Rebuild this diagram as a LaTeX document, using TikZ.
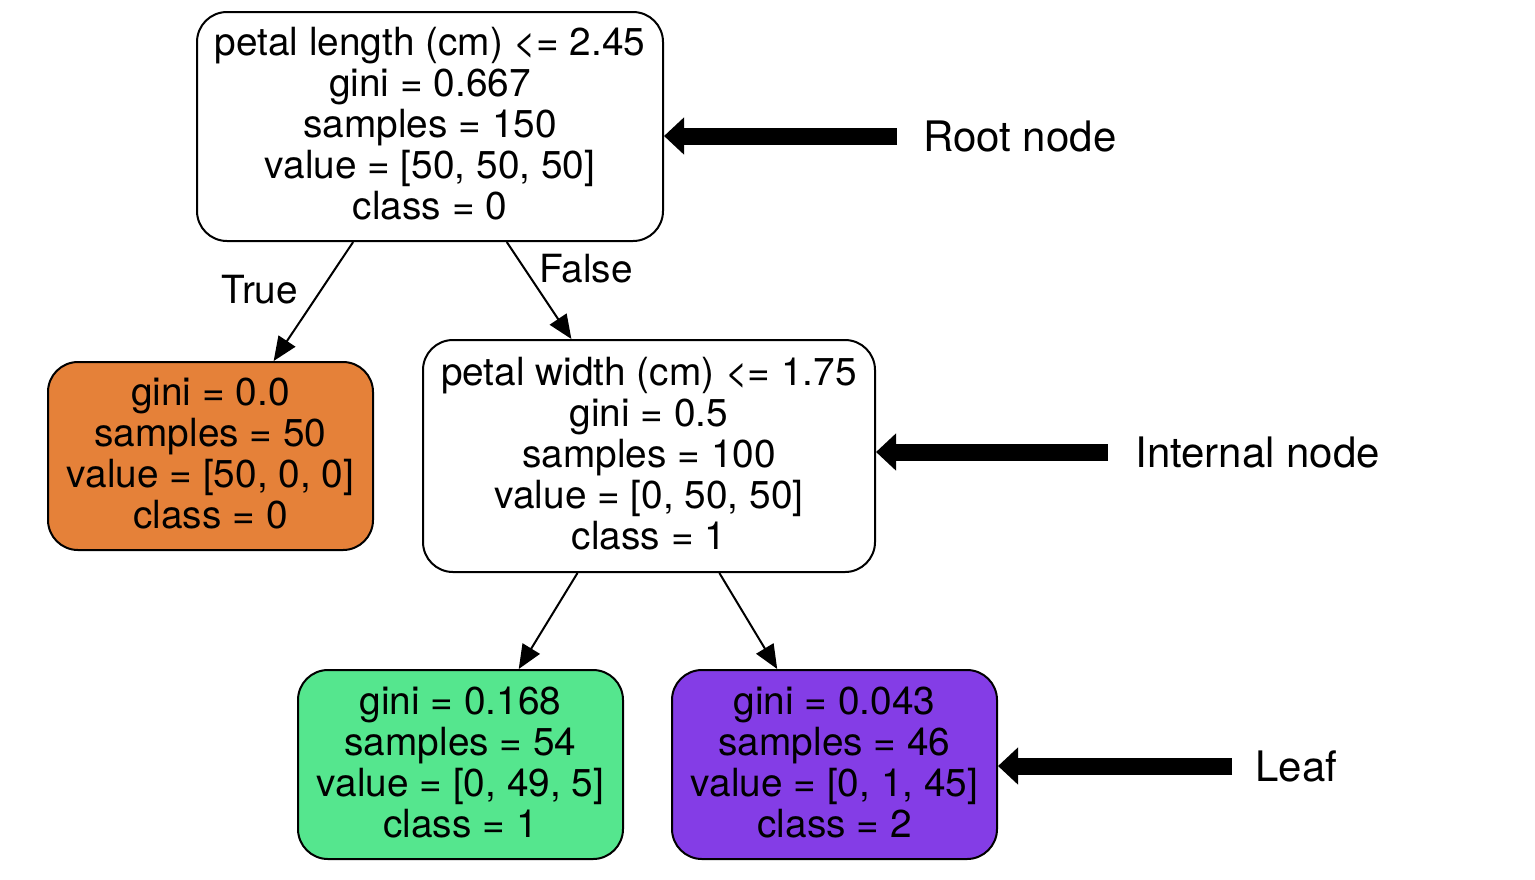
\documentclass[tikz,border=0pt]{standalone}
\usepackage{fontspec}
\setmainfont{TeX Gyre Heros}
\usetikzlibrary{arrows.meta}
\definecolor{leaforange}{HTML}{E58139}
\definecolor{leafgreen}{HTML}{55E68E}
\definecolor{leafpurple}{HTML}{843DE6}
\newcommand{\nodelines}[1]{\raisebox{-1.5pt}[\height][\depth]{\renewcommand{\arraystretch}{1}\begin{tabular}{@{}c@{}}#1\end{tabular}}}
\tikzset{
  treenode/.style={draw=black, line width=1pt, rounded corners=15pt, align=center,
    inner sep=0pt, font=\fontsize{19.4}{20.5}\selectfont},
  edgelab/.style={inner sep=0pt, font=\fontsize{19.4}{20.5}\selectfont},
  treeedge/.style={draw=black, line width=1pt, -{Triangle[length=12pt,width=10pt]}},
  bigarrow/.style={draw=black, line width=8.5pt, -{Triangle[length=10pt,width=18pt]}},
  sidelab/.style={inner sep=0pt, anchor=west, font=\fontsize{21}{23}\selectfont}
}
\begin{document}
\begin{tikzpicture}[x=0.5pt,y=-0.5pt]
\useasboundingbox (0,0) rectangle (1535,879);
\node[treenode, minimum width=233pt, minimum height=114.5pt] (root) at (430,126.5)
  {\nodelines{petal length (cm) <= 2.45\\gini = 0.667\\samples = 150\\value = [50, 50, 50]\\class = 0}};
\node[treenode, fill=leaforange, minimum width=162.5pt, minimum height=94pt] (left) at (210.5,456)
  {\nodelines{gini = 0.0\\samples = 50\\value = [50, 0, 0]\\class = 0}};
\node[treenode, minimum width=226pt, minimum height=116pt] (inner) at (649,456)
  {\nodelines{petal width (cm) <= 1.75\\gini = 0.5\\samples = 100\\value = [0, 50, 50]\\class = 1}};
\node[treenode, fill=leafgreen, minimum width=162.5pt, minimum height=94.5pt] (green) at (460.5,764.5)
  {\nodelines{gini = 0.168\\samples = 54\\value = [0, 49, 5]\\class = 1}};
\node[treenode, fill=leafpurple, minimum width=162.5pt, minimum height=94.5pt] (purple) at (834.5,764.5)
  {\nodelines{gini = 0.043\\samples = 46\\value = [0, 1, 45]\\class = 2}};
\draw[treeedge] (root) -- (left);
\draw[treeedge] (root) -- (inner);
\draw[treeedge] (inner) -- (green);
\draw[treeedge] (inner) -- (purple);
\node[edgelab] (truelab) at (260,290) {True};
\node[edgelab] (falselab) at (586,269) {False};
\node[sidelab] (rootlab) at (923,136) {Root node};
\node[sidelab] (innerlab) at (1135,452) {Internal node};
\node[sidelab] (leaflab) at (1255,766) {Leaf};
\draw[bigarrow] ([xshift=-13pt]rootlab.west) -- (root.east |- rootlab.west);
\draw[bigarrow] ([xshift=-13.5pt]innerlab.west) -- (inner.east |- innerlab.west);
\draw[bigarrow] ([xshift=-11.5pt]leaflab.west) -- (purple.east |- leaflab.west);
\end{tikzpicture}
\end{document}
